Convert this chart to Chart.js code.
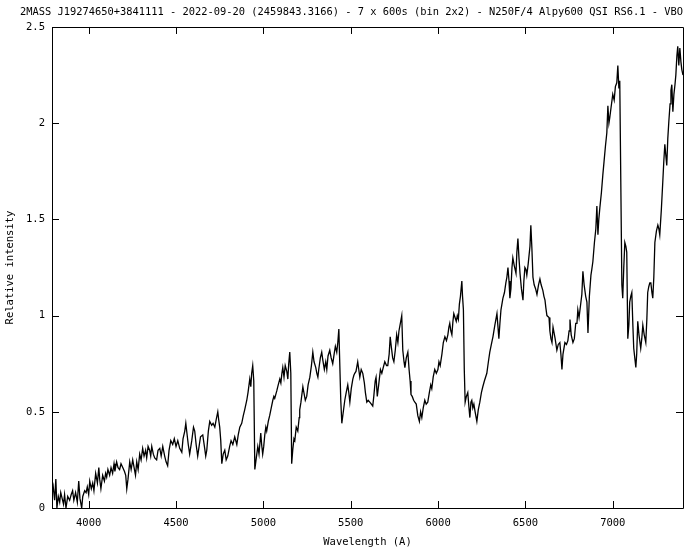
<!DOCTYPE html>
<html>
<head>
<meta charset="utf-8">
<title>Spectrum</title>
<script src="https://cdn.jsdelivr.net/npm/chart.js@4.4.1/dist/chart.umd.min.js"></script>
<style>
  html, body { margin: 0; padding: 0; background: #fff; }
  #wrap { width: 700px; height: 550px; }
</style>
</head>
<body>
<div id="wrap"><canvas id="spec" width="700" height="550"></canvas></div>
<script>
// Spectrum data (wavelength in A, relative intensity)
const wavelength = [
  3790, 3797, 3805, 3812, 3818, 3826, 3834, 3840, 3848, 3856, 3862, 3870, 3880, 3891, 3900, 3908, 3915, 3925, 3935, 3943,
  3950, 3960, 3966, 3977, 3985, 3992, 4000, 4006, 4015, 4023, 4030, 4040, 4050, 4058, 4063, 4070, 4080, 4090, 4097, 4103,
  4110, 4120, 4128, 4137, 4145, 4150, 4160, 4168, 4177, 4185, 4195, 4205, 4212, 4218, 4225, 4235, 4243, 4252, 4260, 4268,
  4275, 4283, 4292, 4300, 4309, 4317, 4326, 4332, 4340, 4349, 4355, 4361, 4370, 4378, 4389, 4397, 4407, 4415, 4424, 4435,
  4443, 4452, 4460, 4470, 4481, 4490, 4500, 4510, 4521, 4533, 4540, 4550, 4556, 4561, 4570, 4578, 4590, 4600, 4607, 4615,
  4624, 4632, 4640, 4653, 4664, 4670, 4676, 4685, 4693, 4704, 4712, 4722, 4730, 4739, 4744, 4750, 4756, 4762, 4770, 4779,
  4787, 4796, 4807, 4815, 4825, 4836, 4848, 4856, 4865, 4876, 4885, 4893, 4905, 4912, 4922, 4928, 4933, 4939, 4945, 4951,
  4958, 4968, 4975, 4985, 4990, 4996, 5002, 5008, 5014, 5019, 5028, 5036, 5045, 5054, 5060, 5065, 5077, 5085, 5094, 5100,
  5106, 5111, 5118, 5125, 5134, 5140, 5145, 5151, 5157, 5162, 5168, 5175, 5180, 5188, 5197, 5205, 5208, 5215, 5226, 5232,
  5240, 5248, 5256, 5266, 5275, 5283, 5290, 5300, 5306, 5312, 5317, 5326, 5334, 5340, 5349, 5357, 5363, 5370, 5380, 5388,
  5397, 5405, 5412, 5420, 5426, 5432, 5437, 5443, 5449, 5456, 5466, 5474, 5483, 5489, 5495, 5503, 5512, 5518, 5523, 5530,
  5540, 5546, 5552, 5560, 5569, 5578, 5584, 5592, 5600, 5609, 5618, 5626, 5632, 5640, 5645, 5652, 5660, 5670, 5678, 5686,
  5695, 5705, 5712, 5720, 5726, 5732, 5740, 5747, 5755, 5763, 5770, 5776, 5784, 5792, 5798, 5805, 5810, 5818, 5827, 5834,
  5840, 5845, 5852, 5860, 5867, 5875, 5884, 5893, 5900, 5907, 5915, 5924, 5932, 5941, 5950, 5958, 5964, 5972, 5981, 5990,
  5999, 6005, 6012, 6022, 6030, 6039, 6048, 6056, 6062, 6067, 6073, 6079, 6085, 6090, 6097, 6104, 6110, 6116, 6122, 6128,
  6136, 6140, 6145, 6150, 6155, 6162, 6170, 6176, 6182, 6188, 6193, 6199, 6205, 6212, 6222, 6230, 6239, 6248, 6256, 6265,
  6279, 6288, 6296, 6305, 6314, 6325, 6337, 6343, 6348, 6354, 6360, 6371, 6380, 6388, 6394, 6400, 6406, 6411, 6417, 6423,
  6428, 6436, 6446, 6451, 6457, 6463, 6469, 6477, 6486, 6491, 6497, 6503, 6508, 6516, 6526, 6531, 6537, 6543, 6550, 6558,
  6566, 6575, 6583, 6590, 6600, 6606, 6612, 6617, 6623, 6635, 6640, 6646, 6652, 6658, 6663, 6670, 6680, 6688, 6697, 6703,
  6709, 6715, 6726, 6735, 6743, 6750, 6755, 6762, 6772, 6780, 6788, 6795, 6800, 6807, 6815, 6823, 6829, 6836, 6845, 6852,
  6858, 6866, 6875, 6880, 6886, 6895, 6903, 6909, 6915, 6920, 6926, 6935, 6943, 6950, 6958, 6966, 6972, 6978, 6983, 6990,
  7000, 7008, 7015, 7023, 7029, 7035, 7040, 7046, 7052, 7057, 7063, 7069, 7075, 7080, 7086, 7092, 7097, 7103, 7109, 7115,
  7120, 7126, 7132, 7137, 7143, 7150, 7160, 7166, 7172, 7180, 7189, 7195, 7200, 7206, 7212, 7218, 7224, 7229, 7235, 7241,
  7250, 7258, 7264, 7269, 7278, 7286, 7292, 7298, 7304, 7309, 7315, 7321, 7328, 7333, 7338, 7344, 7350, 7356, 7361, 7367,
  7372, 7378, 7384, 7390, 7395, 7402
];

const intensity = [
  0.07, 0.11, 0.04, 0.15, 0.00, 0.06, 0.03, 0.08, 0.05, 0.02, 0.07, 0.00, 0.06, 0.04, 0.07, 0.09, 0.04, 0.08, 0.03, 0.14,
  0.05, 0.00, 0.06, 0.09, 0.08, 0.11, 0.07, 0.14, 0.10, 0.13, 0.09, 0.18, 0.13, 0.21, 0.15, 0.10, 0.17, 0.14, 0.18, 0.16,
  0.20, 0.17, 0.21, 0.18, 0.23, 0.19, 0.24, 0.21, 0.20, 0.23, 0.21, 0.19, 0.17, 0.10, 0.15, 0.24, 0.20, 0.25, 0.21, 0.17,
  0.24, 0.20, 0.28, 0.25, 0.31, 0.27, 0.30, 0.26, 0.32, 0.30, 0.27, 0.32, 0.28, 0.26, 0.25, 0.30, 0.31, 0.27, 0.32, 0.27,
  0.24, 0.22, 0.30, 0.35, 0.33, 0.36, 0.32, 0.35, 0.31, 0.29, 0.36, 0.40, 0.44, 0.40, 0.33, 0.28, 0.35, 0.42, 0.40, 0.33,
  0.27, 0.32, 0.37, 0.38, 0.31, 0.27, 0.30, 0.40, 0.45, 0.43, 0.44, 0.42, 0.46, 0.50, 0.46, 0.42, 0.35, 0.23, 0.28, 0.30,
  0.25, 0.27, 0.32, 0.35, 0.33, 0.37, 0.33, 0.38, 0.42, 0.44, 0.48, 0.51, 0.56, 0.60, 0.67, 0.63, 0.70, 0.74, 0.66, 0.20,
  0.25, 0.32, 0.28, 0.39, 0.33, 0.28, 0.32, 0.38, 0.42, 0.40, 0.45, 0.48, 0.52, 0.56, 0.58, 0.57, 0.61, 0.64, 0.67, 0.65,
  0.70, 0.73, 0.68, 0.74, 0.71, 0.67, 0.75, 0.81, 0.70, 0.23, 0.30, 0.36, 0.35, 0.42, 0.40, 0.47, 0.51, 0.55, 0.63, 0.60,
  0.56, 0.58, 0.64, 0.68, 0.74, 0.81, 0.76, 0.73, 0.70, 0.68, 0.72, 0.78, 0.81, 0.77, 0.72, 0.76, 0.72, 0.79, 0.82, 0.78,
  0.75, 0.80, 0.84, 0.81, 0.86, 0.93, 0.76, 0.56, 0.44, 0.49, 0.56, 0.60, 0.64, 0.60, 0.55, 0.62, 0.67, 0.69, 0.70, 0.71,
  0.76, 0.72, 0.68, 0.72, 0.70, 0.65, 0.60, 0.55, 0.56, 0.55, 0.54, 0.53, 0.58, 0.66, 0.68, 0.58, 0.64, 0.72, 0.70, 0.73,
  0.76, 0.74, 0.74, 0.80, 0.89, 0.84, 0.78, 0.76, 0.82, 0.90, 0.86, 0.92, 0.96, 1.00, 0.82, 0.76, 0.73, 0.78, 0.81, 0.72,
  0.66, 0.59, 0.58, 0.56, 0.55, 0.54, 0.48, 0.45, 0.50, 0.47, 0.52, 0.56, 0.54, 0.55, 0.60, 0.64, 0.62, 0.68, 0.72, 0.70,
  0.72, 0.76, 0.74, 0.80, 0.86, 0.89, 0.87, 0.90, 0.94, 0.96, 0.92, 0.90, 0.97, 1.01, 0.99, 0.97, 1.00, 0.98, 1.06, 1.10,
  1.18, 1.10, 1.03, 0.72, 0.55, 0.58, 0.60, 0.53, 0.47, 0.55, 0.56, 0.52, 0.54, 0.50, 0.45, 0.51, 0.55, 0.60, 0.63, 0.66,
  0.70, 0.76, 0.81, 0.85, 0.89, 0.95, 1.01, 0.94, 0.88, 0.96, 1.03, 1.09, 1.12, 1.17, 1.20, 1.25, 1.18, 1.09, 1.14, 1.25,
  1.30, 1.26, 1.22, 1.33, 1.40, 1.30, 1.22, 1.14, 1.08, 1.18, 1.25, 1.24, 1.21, 1.27, 1.36, 1.47, 1.35, 1.20, 1.16, 1.14,
  1.11, 1.16, 1.19, 1.16, 1.13, 1.10, 1.08, 1.04, 1.00, 0.99, 0.92, 0.88, 0.86, 0.94, 0.94, 0.88, 0.82, 0.85, 0.86, 0.80,
  0.72, 0.80, 0.86, 0.85, 0.87, 0.92, 0.98, 0.90, 0.86, 0.88, 0.96, 0.96, 1.03, 0.99, 1.05, 1.11, 1.23, 1.16, 1.10, 1.07,
  0.91, 1.10, 1.21, 1.24, 1.28, 1.38, 1.45, 1.57, 1.42, 1.50, 1.56, 1.64, 1.73, 1.80, 1.88, 1.95, 2.09, 2.00, 2.03, 2.08,
  2.15, 2.12, 2.19, 2.21, 2.30, 2.18, 2.22, 1.69, 1.16, 1.09, 1.25, 1.38, 1.36, 1.33, 0.88, 0.95, 1.07, 1.10, 1.12, 0.95,
  0.83, 0.78, 0.73, 0.80, 0.97, 0.90, 0.83, 0.88, 0.95, 0.90, 0.86, 0.98, 1.12, 1.15, 1.17, 1.17, 1.12, 1.09, 1.20, 1.38,
  1.44, 1.47, 1.45, 1.42, 1.55, 1.69, 1.80, 1.89, 1.83, 1.78, 1.92, 2.01, 2.10, 2.17, 2.20, 2.06, 2.15, 2.20, 2.25, 2.35,
  2.40, 2.30, 2.39, 2.32, 2.28, 2.25
];

const xTicks = [4000, 4500, 5000, 5500, 6000, 6500, 7000];
const yTicks = [0, 0.5, 1, 1.5, 2, 2.5];

const titleText = '2MASS J19274650+3841111 - 2022-09-20 (2459843.3166) - 7 x 600s (bin 2x2) - N250F/4 Alpy600 QSI RS6.1 - VBO';
const monoFont = "'DejaVu Sans Mono', 'Liberation Mono', monospace";

const points = wavelength.map((w, i) => ({ x: w, y: intensity[i] }));

// gnuplot-like frame with inward ticks on all four sides
const frameTicks = {
    id: 'frameTicks',
    afterDatasetsDraw(chart) {
        const { ctx, chartArea: a, scales } = chart;
        const len = 7;
        ctx.save();
        ctx.strokeStyle = '#000';
        ctx.lineWidth = 1;
        ctx.beginPath();
        ctx.rect(Math.round(a.left) + 0.5, Math.round(a.top) + 0.5,
                 Math.round(a.right - a.left), Math.round(a.bottom - a.top));
        xTicks.forEach(v => {
            const px = Math.round(scales.x.getPixelForValue(v)) + 0.5;
            ctx.moveTo(px, a.bottom); ctx.lineTo(px, a.bottom - len);
            ctx.moveTo(px, a.top); ctx.lineTo(px, a.top + len);
        });
        yTicks.forEach(v => {
            const py = Math.round(scales.y.getPixelForValue(v)) + 0.5;
            ctx.moveTo(a.left, py); ctx.lineTo(a.left + len, py);
            ctx.moveTo(a.right, py); ctx.lineTo(a.right - len, py);
        });
        ctx.stroke();
        ctx.restore();
    }
};

const ctx = document.getElementById('spec').getContext('2d');
const chart = new Chart(ctx, {
    type: 'line',
    data: {
        datasets: [{
            data: points,
            borderColor: '#000',
            borderWidth: 1.3,
            pointRadius: 0,
            tension: 0,
            fill: false
        }]
    },
    options: {
        responsive: false,
        animation: false,
        layout: { padding: { left: 0, right: 17, top: 0, bottom: 0 } },
        plugins: {
            legend: { display: false },
            tooltip: { enabled: false },
            title: {
                display: true,
                text: titleText,
                align: 'end',
                color: '#000',
                font: { family: monoFont, size: 10.4, weight: 'normal', lineHeight: 1.2 },
                padding: { top: 6, bottom: 8.5 }
            }
        },
        scales: {
            x: {
                type: 'linear',
                min: 3790,
                max: 7402,
                grid: { display: false, drawTicks: false },
                border: { display: false },
                afterBuildTicks: scale => {
                    scale.ticks = xTicks.map(v => ({ value: v }));
                },
                afterFit: scale => { scale.height = 42; },
                ticks: {
                    color: '#000',
                    padding: 9,
                    maxRotation: 0,
                    font: { family: monoFont, size: 10.5 },
                    callback: v => String(v)
                },
                title: {
                    display: true,
                    text: 'Wavelength (A)',
                    color: '#000',
                    font: { family: monoFont, size: 10.5 },
                    padding: { top: 0, bottom: 1 }
                }
            },
            y: {
                type: 'linear',
                min: 0,
                max: 2.5,
                grid: { display: false, drawTicks: false },
                border: { display: false },
                afterBuildTicks: scale => {
                    scale.ticks = yTicks.map(v => ({ value: v }));
                },
                afterFit: scale => { scale.width = 52; },
                ticks: {
                    color: '#000',
                    padding: 7,
                    font: { family: monoFont, size: 10.5 },
                    callback: v => String(v)
                },
                title: {
                    display: true,
                    text: 'Relative intensity',
                    color: '#000',
                    font: { family: monoFont, size: 10.5 },
                    padding: { top: 4, bottom: 0 }
                }
            }
        }
    },
    plugins: [frameTicks]
});
</script>
</body>
</html>
